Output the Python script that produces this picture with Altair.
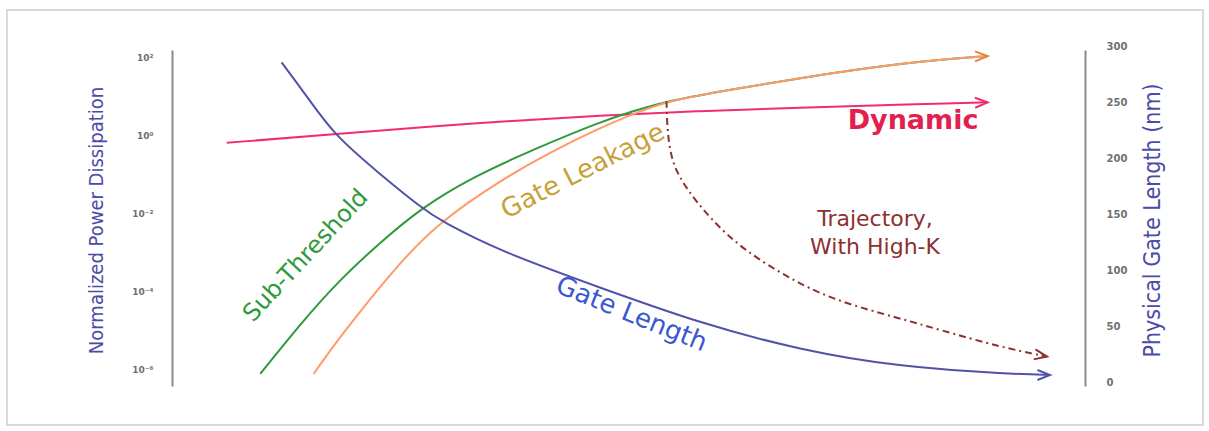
import altair as alt
import pandas as pd

# --- series (year, value) ---------------------------------------------------
dyn_year = [1991.8, 1995.3, 1998.8, 2000.8, 2004.05, 2007.35, 2010.65, 2013.9, 2016.8]
dyn_power = [0.65, 1.07, 1.78, 2.28, 3.24, 4.23, 5.16, 6.1, 7.06]

sub_year = [1992.9, 1994.2, 1995.5, 1996.85, 1998.15, 1999.8, 2001.85, 2004.05, 2005.15,
            2006.25, 2008.45, 2010.65, 2012.85, 2015.0, 2016.8]
sub_power = [7.9e-7, 1.45e-5, 2.0e-4, 1.86e-3, 1.32e-2, 8.1e-2, 0.43, 2.19, 4.2,
             7.6, 15.5, 29.5, 53.7, 85, 107]

leak_year = [1994.65, 1995.3, 1996.0, 1997.5, 1998.8, 2000.8, 2002.45, 2004.05, 2005.15,
             2006.25, 2008.45, 2010.65, 2012.85, 2015.0, 2016.8]
leak_power = [7.9e-7, 4.1e-6, 2.1e-5, 5.8e-4, 6.2e-3, 7.2e-2, 0.38, 1.55, 3.55,
              7.6, 15.5, 29.5, 53.7, 85, 107]

hk_year = [2006.25, 2006.27, 2006.42, 2006.9, 2007.7, 2008.75, 2010.2, 2011.7, 2013.9,
           2015.25, 2017.2, 2018.75]
hk_power = [7.6, 1.38, 0.195, 0.043, 7.2e-3, 1.23e-3, 2.4e-4, 6.2e-5, 2.1e-5,
            1.05e-5, 3.9e-6, 2.2e-6]

gl_year = [1993.6, 1994.45, 1995.3, 1996.75, 1998.25, 1998.8, 2000.8, 2004.05, 2007.35,
           2010.65, 2013.9, 2017.55, 2018.85]
gl_nm = [289, 258, 225, 191, 158, 148, 120, 88, 56, 32, 17, 10.7, 9.8]

x_ticks = [1990, 1995, 2000, 2005, 2010, 2015, 2020]
power_ticks = [1e-6, 1e-4, 1e-2, 1, 100]
nm_ticks = [0, 50, 100, 150, 200, 250, 300]

# --- colours / fonts ---------------------------------------------------------
C_DYN = "#f42a74"
C_SUB = "#2f9a3c"
C_LEAK = "#ff9a6a"
C_HK = "#8c3030"
C_GL = "#5252a8"
C_TITLE = "#5050b0"
WIDE = "DejaVu Sans"
NARROW = "Liberation Sans Narrow, DejaVu Sans Condensed, Liberation Sans"

X_DOMAIN = [1990, 2020]
P_DOMAIN = [10 ** -6.41, 10 ** 2.187]

x_scale = alt.Scale(domain=X_DOMAIN, nice=False, zero=False)
x_enc = alt.X(
    "year:Q",
    scale=x_scale,
    axis=alt.Axis(
        values=x_ticks, format="d", title="Chronological\u00a0\u00a0(Year) \u2192",
        titleX=395, titleY=22, titleBaseline="middle", titleAlign="center",
        titleFont=WIDE, titleFontSize=19, titleFontWeight="normal", titleColor=C_TITLE,
        labelFont=WIDE, labelFontSize=10, labelColor="#707070", labelFontWeight="bold",
        labelPadding=4, tickSize=0, labelFlush=False, labelOverlap=False,
        domainColor="#8c8c8c", domainWidth=2, grid=False,
    ),
)

power_scale = alt.Scale(type="log", domain=P_DOMAIN, nice=False)
power_axis = alt.Axis(
    values=power_ticks,
    labelExpr=("datum.value >= 10 ? '10\u00b2' : datum.value >= 0.5 ? '10\u2070' : "
               "datum.value >= 0.005 ? '10\u207b\u00b2' : datum.value >= 5e-5 ? '10\u207b\u2074' : '10\u207b\u2076'"),
    title="Normalized Power Dissipation",
    titleX=-76, titleY=170, titleAngle=270, titleAlign="center", titleBaseline="middle",
    titleFont=NARROW, titleFontSize=20, titleFontWeight="normal", titleColor="#4b4ba8",
    labelFont=WIDE, labelFontSize=9, labelColor="#707070", labelFontWeight="bold",
    labelPadding=19, tickSize=0, labelOverlap=False,
    domainColor="#8c8c8c", domainWidth=2, grid=False, orient="left",
)


def curve(years, vals, name):
    return pd.DataFrame({"year": years, "power": vals, "series": name})


def power_line(df, color, **kw):
    return alt.Chart(df).mark_line(color=color, strokeWidth=2, interpolate="basis", **kw).encode(
        x=x_enc, y=alt.Y("power:Q", scale=power_scale, axis=power_axis)
    )


dyn = power_line(curve(dyn_year, dyn_power, "Dynamic"), C_DYN)
sub = power_line(curve(sub_year, sub_power, "Sub-Threshold"), C_SUB)
leak = power_line(curve(leak_year, leak_power, "Gate Leakage"), C_LEAK)
hk = power_line(curve(hk_year, hk_power, "High-K"), C_HK, strokeDash=[7, 4, 2, 4])

# chevron arrow heads at the end of each power curve
CHEVRON = "M -3 -1.2 L 0 0 L -3 1.2"
heads = pd.DataFrame({
    "year": [dyn_year[-1], leak_year[-1], hk_year[-1]],
    "power": [dyn_power[-1], leak_power[-1], hk_power[-1]],
    "ang": [358, 359, 10],
    "col": [C_DYN, "#e8803c", C_HK],
})
power_heads = alt.Chart(heads).mark_point(shape=CHEVRON, filled=False, size=70,
                                           strokeWidth=2, opacity=1).encode(
    x=alt.X("year:Q", scale=x_scale),
    y=alt.Y("power:Q", scale=power_scale),
    angle=alt.Angle("ang:Q", scale=None),
    stroke=alt.Stroke("col:N", scale=None),
)

# in-plot labels on the power scale
lab_text = ["Sub-Threshold", "Gate Leakage", "Dynamic", "Trajectory,", "With High-K"]
lab_year = [1994.4, 2003.5, 2014.35, 2013.1, 2013.1]
lab_power = [8.3e-4, 0.123, 2.35, 7.4e-3, 1.4e-3]
lab_angle = [313, 333, 0, 0, 0]
lab_color = [C_SUB, "#c8a03a", "#e21f4f", C_HK, C_HK]
lab_size = [24, 26, 27, 22, 22]
lab_weight = ["normal", "normal", "bold", "normal", "normal"]

label_layers = []
for t, yr, pw, ang, col, sz, wt in zip(lab_text, lab_year, lab_power, lab_angle,
                                       lab_color, lab_size, lab_weight):
    label_layers.append(
        alt.Chart(pd.DataFrame({"year": [yr], "power": [pw], "txt": [t]}))
        .mark_text(font=WIDE, fontSize=sz, fontWeight=wt, color=col, angle=ang,
                   align="center", baseline="middle")
        .encode(x=alt.X("year:Q", scale=x_scale),
                y=alt.Y("power:Q", scale=power_scale), text="txt:N")
    )

# --- gate length on the right (linear nm) axis ------------------------------
nm_scale = alt.Scale(domain=[0, 300], nice=False)
nm_axis = alt.Axis(
    values=nm_ticks, title="Physical Gate Length (nm)", orient="right",
    titleX=67, titleY=170, titleAngle=270, titleAlign="center", titleBaseline="middle",
    titleFont=NARROW, titleFontSize=23, titleFontWeight="normal", titleColor="#4b4ba8",
    labelFont=WIDE, labelFontSize=10, labelColor="#707070", labelFontWeight="bold",
    labelPadding=21, labelOffset=-4, tickSize=0, labelOverlap=False, labelFlush=False,
    domainColor="#8c8c8c", domainWidth=2, grid=False,
)
x_plain = alt.X("year:Q", scale=x_scale, axis=None)

gl_df = pd.DataFrame({"year": gl_year, "nm": gl_nm})
gl_line = alt.Chart(gl_df).mark_line(color=C_GL, strokeWidth=2, interpolate="basis").encode(
    x=x_plain, y=alt.Y("nm:Q", scale=nm_scale, axis=nm_axis)
)
gl_head = alt.Chart(pd.DataFrame({"year": [gl_year[-1]], "nm": [gl_nm[-1]]})).mark_point(
    shape=CHEVRON, filled=False, size=70, strokeWidth=2, opacity=1, color=C_GL, angle=0
).encode(x=x_plain, y=alt.Y("nm:Q", scale=nm_scale))
gl_label = alt.Chart(pd.DataFrame({"year": [2005.1], "nm": [64], "txt": ["Gate Length"]})).mark_text(
    font=WIDE, fontSize=26, color="#3a58d4", angle=22, align="center", baseline="middle"
).encode(x=x_plain, y=alt.Y("nm:Q", scale=nm_scale), text="txt:N")

# light frame around the figure
frame = alt.Chart(pd.DataFrame({"k": [0]})).mark_rect(
    fill=None, stroke="#dadada", strokeWidth=2
).encode(x=alt.value(-165), x2=alt.value(1031), y=alt.value(-40), y2=alt.value(375))

power_layer = alt.layer(frame, dyn, sub, leak, hk, power_heads, *label_layers)
nm_layer = alt.layer(gl_line, gl_head, gl_label)

chart = (
    alt.layer(power_layer, nm_layer)
    .resolve_scale(y="independent")
    .properties(
        width=913, height=336,
        autosize=alt.AutoSizeParams(type="none"),
        padding={"left": 172, "top": 50, "right": 124, "bottom": 45},
        background="white",
    )
    .configure_view(stroke=None)
)

chart.save("out.html", embed_options={"renderer": "svg", "actions": False})
